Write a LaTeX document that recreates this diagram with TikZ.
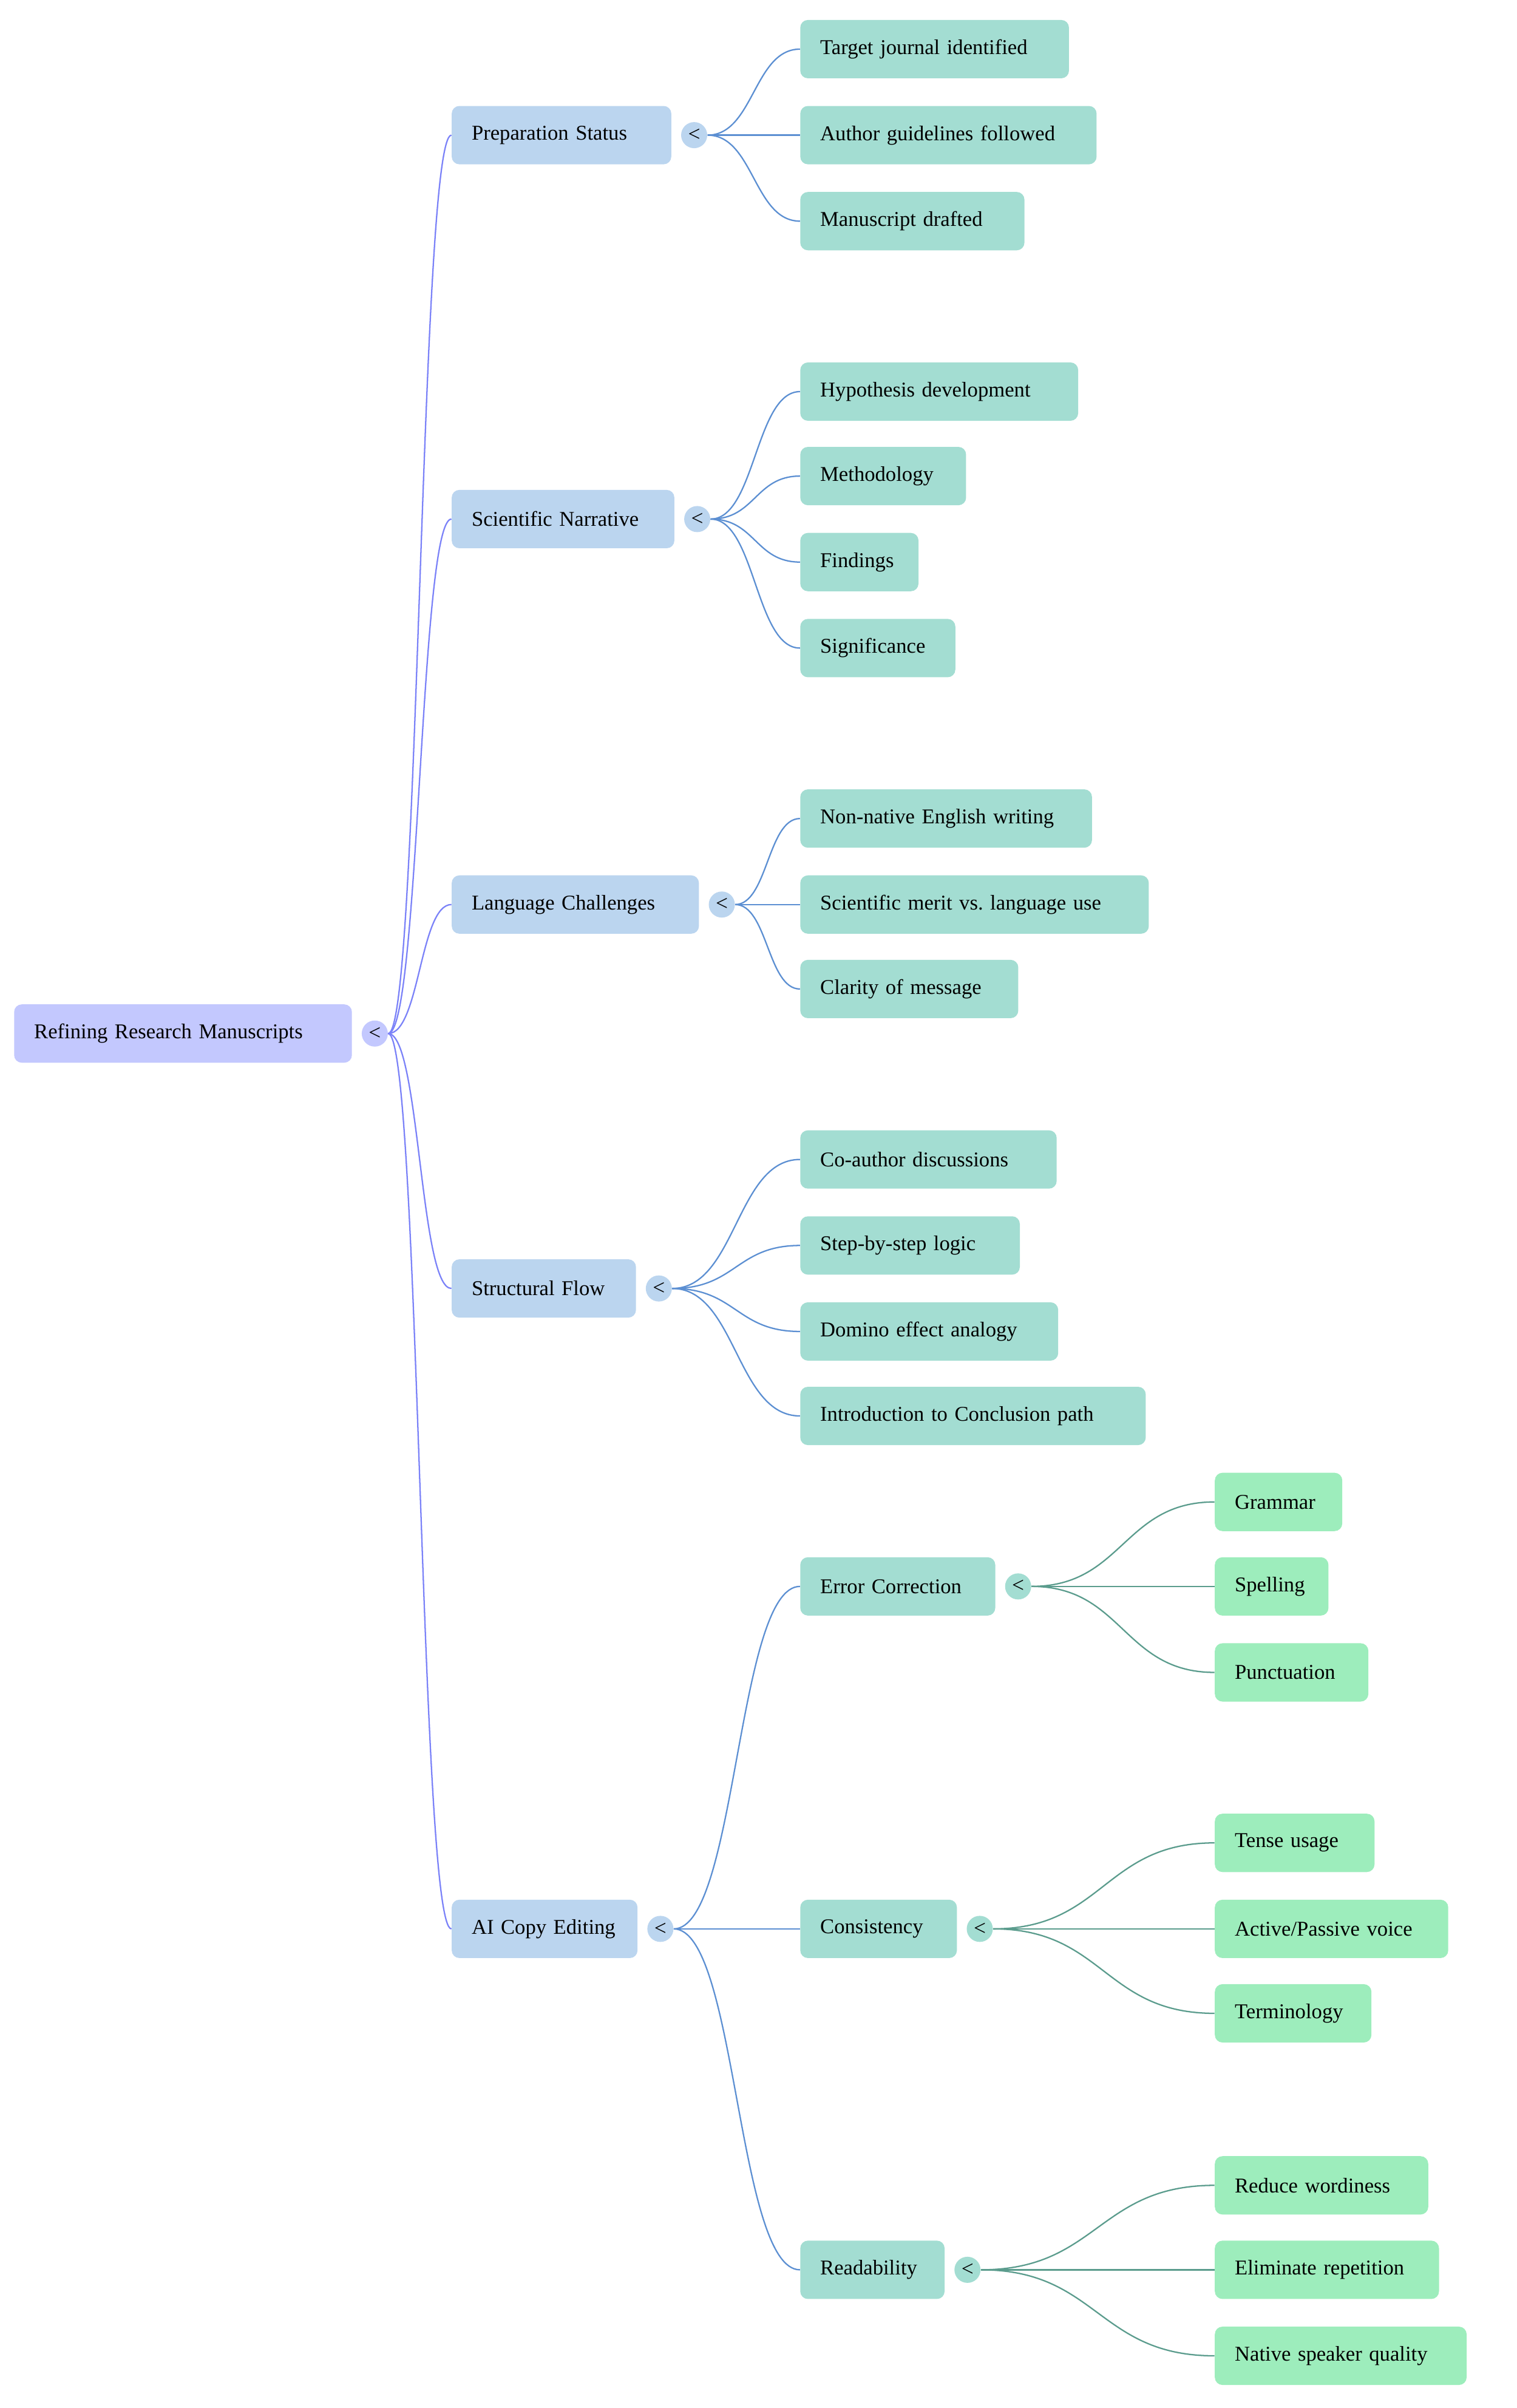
\documentclass[tikz,border=0pt]{standalone}
\usepackage{fontspec}
\setmainfont{Liberation Serif}
\usepackage{xcolor}
\usetikzlibrary{calc,positioning}
\definecolor{rootbg}{HTML}{C3C8FE}
\definecolor{lvlone}{HTML}{BBD5EF}
\definecolor{lvltwo}{HTML}{A3DDD2}
\definecolor{lvlthree}{HTML}{9DEDBC}
\definecolor{linkroot}{HTML}{7B82F8}
\definecolor{linkone}{HTML}{5C8FD2}
\definecolor{linktwo}{HTML}{5B9C8D}
\tikzset{
  mm/.style={rounded corners=5pt,minimum height=38pt,inner xsep=13pt,inner ysep=0pt,
    text width=#1pt,align=left,anchor=west,font=\fontsize{13.7}{17}\selectfont,
    execute at begin node=\hbox\bgroup,execute at end node=\egroup},
  rootbox/.style={mm=#1,fill=rootbg},
  onebox/.style={mm=#1,fill=lvlone},
  twobox/.style={mm=#1,fill=lvltwo},
  threebox/.style={mm=#1,fill=lvlthree},
  knob/.style={circle,inner sep=0pt,minimum size=17pt,font=\fontsize{14}{14}\selectfont},
  edge/.style={draw=#1,line width=0.9pt}
}
\frenchspacing
\newcommand{\twig}[3]{%
  \draw[edge=#1] let \p1=(#2.east), \p2=(#3.west) in
    (\p1) .. controls ({(\x1+\x2)/2},\y1) and ({(\x1+\x2)/2},\y2) .. (\p2);}

\begin{document}
\begin{tikzpicture}[x=1pt,y=-1pt]
\useasboundingbox (0,0) rectangle (988,1568);
% root
\node[rootbox=194] (root) at (9,673) {Refining Research Manuscripts};
\node[knob,fill=rootbg,right=6pt of root] (kroot) {<};
% main branches
\foreach \nm/\yy/\ww/\txt in {prep/88/117/Preparation Status,narr/338/119/Scientific Narrative,
  lang/589/135/Language Challenges,flow/839/94/Structural Flow,ai/1256/95/AI Copy Editing}{
  \node[onebox=\ww] (\nm) at (294,\yy) {\txt};
  \node[knob,fill=lvlone,right=6pt of \nm] (k\nm) {<};
  \twig{linkroot}{kroot}{\nm}
}
% second level
\foreach \up/\nm/\yy/\ww/\txt in {kprep/p1/32/149/Target journal identified,
  kprep/p2/88/167/Author guidelines followed,kprep/p3/144/120/Manuscript drafted,
  knarr/n1/255/155/Hypothesis development,knarr/n2/310/82/Methodology,
  knarr/n3/366/51/Findings,knarr/n4/422/75/Significance,
  klang/l1/533/164/Non-native English writing,klang/l2/589/201/Scientific merit vs. language use,
  klang/l3/644/116/Clarity of message,
  kflow/f1/755/141/Co-author discussions,kflow/f2/811/117/Step-by-step logic,
  kflow/f3/867/142/Domino effect analogy,kflow/f4/922/199/Introduction to Conclusion path,
  kai/fix/1033/101/Error Correction,kai/cons/1256/76/Consistency,kai/read/1478/68/Readability}{
  \node[twobox=\ww] (\nm) at (521,\yy) {\txt};
  \twig{linkone}{\up}{\nm}
}
\foreach \nm in {fix,cons,read}
  \node[knob,fill=lvltwo,right=6pt of \nm] (k\nm) {<};
% third level
\foreach \up/\nm/\yy/\ww/\txt in {kfix/g1/978/57/Grammar,kfix/g2/1033/48/Spelling,
  kfix/g3/1089/74/Punctuation,
  kcons/c1/1200/78/Tense usage,kcons/c2/1256/126/{Active/Passive voice},
  kcons/c3/1311/76/Terminology,
  kread/r1/1423/113/Reduce wordiness,kread/r2/1478/120/Eliminate repetition,
  kread/r3/1534/138/Native speaker quality}{
  \node[threebox=\ww] (\nm) at (791,\yy) {\txt};
  \twig{linktwo}{\up}{\nm}
}
\end{tikzpicture}
\end{document}
